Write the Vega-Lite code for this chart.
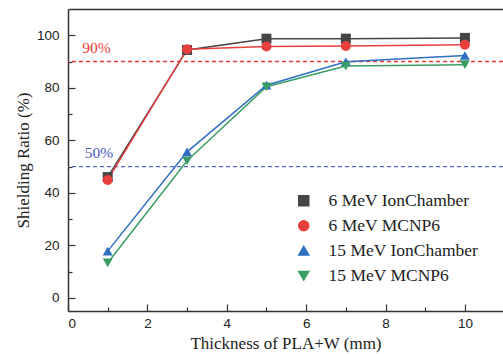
{
  "$schema": "https://vega.github.io/schema/vega-lite/v6.json",
  "width": 435,
  "height": 302,
  "autosize": {"type": "none"},
  "padding": {"left": 68, "top": 9, "right": 0, "bottom": 43},
  "background": "white",
  "config": {
    "view": {"stroke": null},
    "axis": {
      "domainColor": "#333333",
      "domainWidth": 1.5,
      "tickColor": "#333333",
      "tickWidth": 1.2,
      "labelFont": "Liberation Sans",
      "labelFontSize": 13.5,
      "labelColor": "#222222",
      "titleFont": "Liberation Serif",
      "titleFontSize": 17,
      "titleFontWeight": "normal",
      "titleColor": "#222222",
      "grid": false
    }
  },
  "data": {
    "values": [
      {"t": 1, "r": 46.0, "s": "6 MeV IonChamber"},
      {"t": 3, "r": 94.4, "s": "6 MeV IonChamber"},
      {"t": 5, "r": 98.7, "s": "6 MeV IonChamber"},
      {"t": 7, "r": 98.7, "s": "6 MeV IonChamber"},
      {"t": 10, "r": 99.0, "s": "6 MeV IonChamber"},
      {"t": 1, "r": 44.9, "s": "6 MeV MCNP6"},
      {"t": 3, "r": 94.7, "s": "6 MeV MCNP6"},
      {"t": 5, "r": 95.7, "s": "6 MeV MCNP6"},
      {"t": 7, "r": 95.9, "s": "6 MeV MCNP6"},
      {"t": 10, "r": 96.4, "s": "6 MeV MCNP6"},
      {"t": 1, "r": 17.8, "s": "15 MeV IonChamber"},
      {"t": 3, "r": 55.6, "s": "15 MeV IonChamber"},
      {"t": 5, "r": 81.0, "s": "15 MeV IonChamber"},
      {"t": 7, "r": 89.9, "s": "15 MeV IonChamber"},
      {"t": 10, "r": 92.3, "s": "15 MeV IonChamber"},
      {"t": 1, "r": 13.3, "s": "15 MeV MCNP6"},
      {"t": 3, "r": 52.2, "s": "15 MeV MCNP6"},
      {"t": 5, "r": 80.4, "s": "15 MeV MCNP6"},
      {"t": 7, "r": 88.3, "s": "15 MeV MCNP6"},
      {"t": 10, "r": 88.8, "s": "15 MeV MCNP6"}
    ]
  },
  "resolve": {"axis": {"x": "independent", "y": "independent"}},
  "layer": [
    {
      "data": {"values": [{}]},
      "mark": {"type": "rule", "color": "#e23a3a", "strokeDash": [4, 3], "strokeWidth": 1.3},
      "encoding": {
        "y": {"datum": 90, "type": "quantitative", "scale": {"domain": [-5, 110], "nice": false, "zero": false},
          "axis": {"orient": "left", "values": [10, 30, 50, 70, 90], "tickSize": -4, "labels": false, "domain": false, "title": null}}
      }
    },
    {
      "data": {"values": [{}]},
      "mark": {"type": "rule", "color": "#5566c8", "strokeDash": [4, 3], "strokeWidth": 1.3},
      "encoding": {
        "y": {"datum": 50, "type": "quantitative", "scale": {"domain": [-5, 110], "nice": false, "zero": false}, "axis": null}
      }
    },
    {
      "data": {"values": [{}]},
      "mark": {"type": "text", "text": "90%", "color": "#e23a3a", "font": "Liberation Serif", "fontSize": 15.5},
      "encoding": {
        "x": {"datum": 0.72, "type": "quantitative", "scale": {"domain": [0, 10.96], "nice": false, "zero": false},
          "axis": {"orient": "bottom", "values": [1, 3, 5, 7, 9], "tickSize": -4, "labels": false, "domain": false, "title": null}},
        "y": {"datum": 95, "type": "quantitative", "scale": {"domain": [-5, 110], "nice": false, "zero": false}, "axis": null}
      }
    },
    {
      "data": {"values": [{}]},
      "mark": {"type": "text", "text": "50%", "color": "#4a5cc0", "font": "Liberation Serif", "fontSize": 15.5},
      "encoding": {
        "x": {"datum": 0.78, "type": "quantitative", "scale": {"domain": [0, 10.96], "nice": false, "zero": false},
          "axis": {"orient": "top", "ticks": false, "labels": false, "domain": true, "title": null}},
        "y": {"datum": 55, "type": "quantitative", "scale": {"domain": [-5, 110], "nice": false, "zero": false}, "axis": null}
      }
    },
    {
      "mark": {"type": "line", "strokeWidth": 1.5},
      "encoding": {
        "x": {"field": "t", "type": "quantitative", "scale": {"domain": [0, 10.96], "nice": false, "zero": false},
          "axis": {"orient": "bottom", "values": [0, 2, 4, 6, 8, 10], "tickSize": -7, "labelPadding": 12, "title": "Thickness of PLA+W (mm)", "titlePadding": 6}},
        "y": {"field": "r", "type": "quantitative", "scale": {"domain": [-5, 110], "nice": false, "zero": false},
          "axis": {"orient": "left", "values": [0, 20, 40, 60, 80, 100], "tickSize": -7, "labelPadding": 16, "title": "Shielding Ratio (%)", "titlePadding": 4}},
        "color": {"field": "s", "type": "nominal",
          "scale": {"domain": ["6 MeV IonChamber", "6 MeV MCNP6", "15 MeV IonChamber", "15 MeV MCNP6"], "range": ["#454545", "#e8403f", "#2e6fc2", "#3a9e64"]}},
        "detail": {"field": "s"}
      }
    },
    {
      "mark": {"type": "point", "filled": true, "opacity": 1, "size": 100},
      "encoding": {
        "x": {"field": "t", "type": "quantitative", "scale": {"domain": [0, 10.96], "nice": false, "zero": false}, "axis": null},
        "y": {"field": "r", "type": "quantitative", "scale": {"domain": [-5, 110], "nice": false, "zero": false}, "axis": null},
        "color": {"field": "s", "type": "nominal",
          "scale": {"domain": ["6 MeV IonChamber", "6 MeV MCNP6", "15 MeV IonChamber", "15 MeV MCNP6"], "range": ["#454545", "#e8403f", "#2e6fc2", "#3a9e64"]},
          "legend": {
            "title": null,
            "orient": "none",
            "legendX": 227,
            "legendY": 183,
            "symbolSize": 100,
            "labelFont": "Liberation Serif",
            "labelFontSize": 17.5,
            "labelColor": "#222222",
            "labelOffset": 16,
            "rowPadding": 6
          }},
        "shape": {"field": "s", "type": "nominal",
          "scale": {"domain": ["6 MeV IonChamber", "6 MeV MCNP6", "15 MeV IonChamber", "15 MeV MCNP6"], "range": ["square", "circle", "triangle-up", "triangle-down"]},
          "legend": null}
      }
    }
  ]
}
